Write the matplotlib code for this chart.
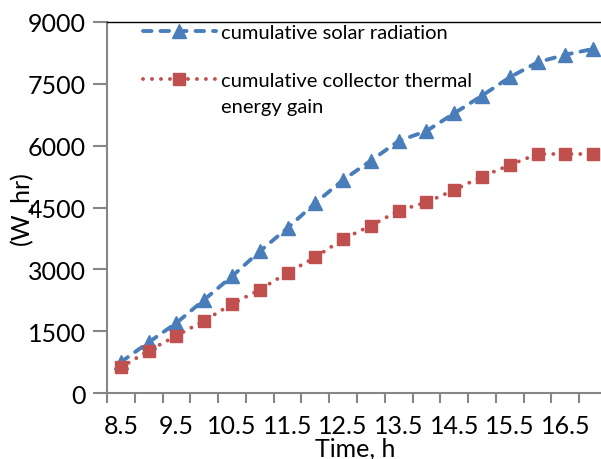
import matplotlib
matplotlib.use("Agg")
import matplotlib.pyplot as plt
import numpy as np

plt.rcParams['font.family'] = ['Lato', 'DejaVu Sans']

# time of day (h), one category every half hour
time_h = [8.5, 9.0, 9.5, 10.0, 10.5, 11.0, 11.5, 12.0, 12.5,
          13.0, 13.5, 14.0, 14.5, 15.0, 15.5, 16.0, 16.5, 17.0]
solar_radiation = [750, 1230, 1700, 2264, 2831, 3437, 4003, 4609, 5170,
                   5636, 6114, 6356, 6785, 7213, 7659, 8022, 8207, 8346]
thermal_gain = [623, 1026, 1390, 1754, 2159, 2506, 2918, 3292, 3736,
                4059, 4423, 4626, 4925, 5248, 5531, 5798, 5798, 5798]
x_labels = ["8.5", "9.5", "10.5", "11.5", "12.5", "13.5", "14.5", "15.5", "16.5"]
y_ticks = [0, 1500, 3000, 4500, 6000, 7500, 9000]

blue = "#4A7EBB"
red = "#C0504D"

fig = plt.figure(figsize=(6.01, 4.60), dpi=100)
ax = fig.add_axes([107/601, 1 - 394/460, 500/601, 371/460])

ax.plot(time_h, solar_radiation, color=blue, lw=2.8, linestyle=(0, (2.2, 2.3)),
        dash_capstyle='round', marker='^', markersize=10,
        label="cumulative solar radiation")
ax.plot(time_h, thermal_gain, color=red, lw=2.8, linestyle=(0, (0.01, 2.3)),
        dash_capstyle='round', marker='s', markersize=9,
        label="cumulative collector thermal")

ax.set_xlim(time_h[0] - 0.25, time_h[-1] + 0.25)
ax.set_ylim(0, 9000)
ax.set_yticks(y_ticks)

# category-style axis: tick marks between points, labels on every other point
edges = np.arange(time_h[0] - 0.25, time_h[-1] + 0.26, 0.5)
ax.set_xticks(edges)
ax.set_xticklabels([])
ax.set_xticks([float(s) for s in x_labels], minor=True)
ax.set_xticklabels(x_labels, minor=True)
ax.tick_params(axis='x', which='major', length=7, width=1.5, color='#868686', direction='out')
ax.tick_params(axis='x', which='minor', length=0, pad=15, labelsize=18)
ax.tick_params(axis='y', length=10, width=1.5, color='#868686', pad=5, labelsize=18)

for s in ['left', 'bottom']:
    ax.spines[s].set_color('#868686')
    ax.spines[s].set_linewidth(1.5)
ax.spines['top'].set_color('black')
ax.spines['top'].set_linewidth(1.0)
ax.spines['right'].set_visible(False)

fig.text(355/601, 1 - 449/460, "Time, h", ha='center', va='center', fontsize=18)
fig.text(21/601, 1 - 208/460, "(W_hr)", ha='center', va='center', rotation=90, fontsize=18)

leg = ax.legend(loc='upper left', bbox_to_anchor=(143/601, 1 - 25/460),
                bbox_transform=fig.transFigure, frameon=False, fontsize=14.5,
                handlelength=3.6, handletextpad=0.25, borderpad=0, borderaxespad=0,
                labelspacing=1.55, numpoints=1)

# second line of the wrapped legend label, handle stays on the first line (Excel style)
fig.canvas.draw()
bb = leg.get_texts()[1].get_window_extent().transformed(fig.transFigure.inverted())
fig.text(bb.x0, bb.y0 - 26/460, "energy gain", ha='left', va='bottom', fontsize=14.5)

fig.savefig("out.png", dpi=100)
